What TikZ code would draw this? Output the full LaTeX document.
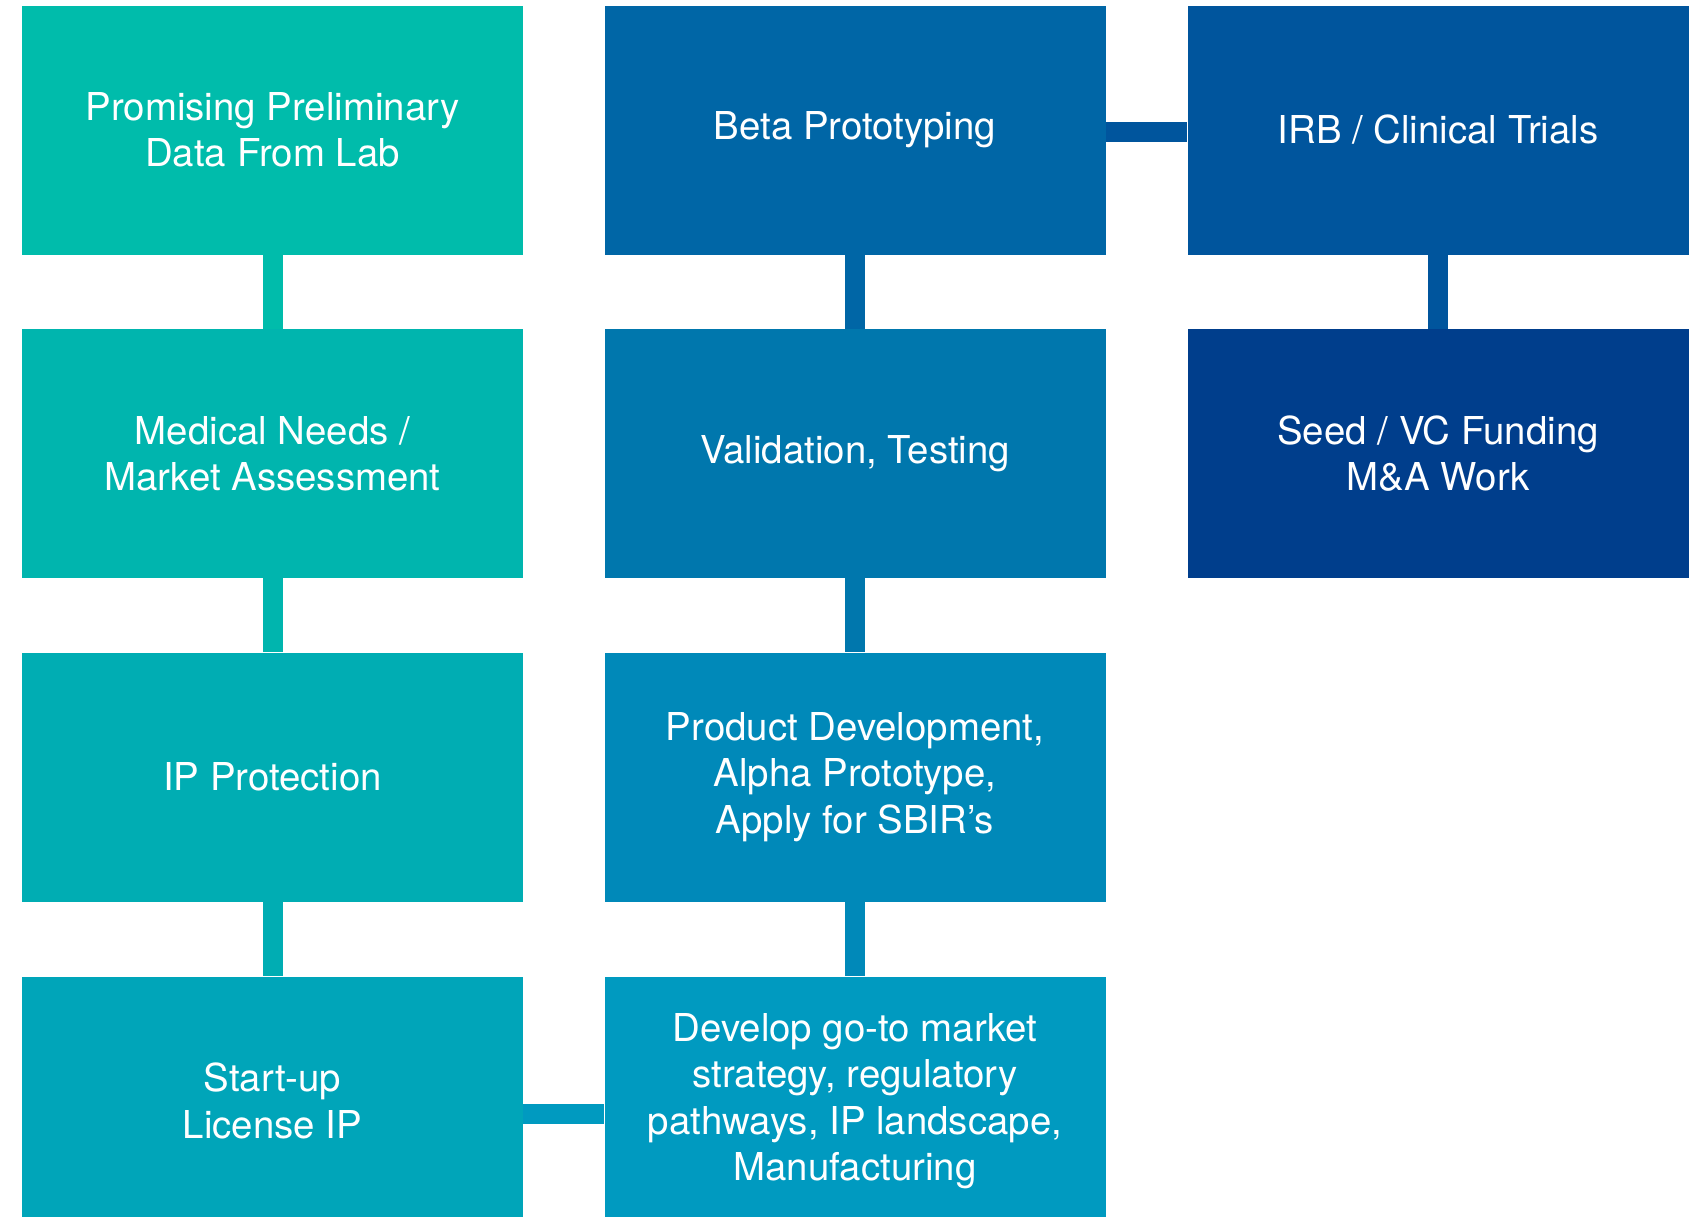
\documentclass[tikz,border=0pt]{standalone}
\usepackage{fontspec}
\setmainfont{TeX Gyre Heros}
\definecolor{cA}{HTML}{00BCAB}
\definecolor{cB}{HTML}{00B5AE}
\definecolor{cC}{HTML}{00ADB3}
\definecolor{cD}{HTML}{00A5B9}
\definecolor{cE}{HTML}{0066A6}
\definecolor{cF}{HTML}{0077AD}
\definecolor{cG}{HTML}{0089B9}
\definecolor{cH}{HTML}{009AC0}
\definecolor{cI}{HTML}{00559D}
\definecolor{cJ}{HTML}{003E8C}
\begin{document}
\begin{tikzpicture}[x=0.5pt,y=-0.5pt,
  box/.style={fill=#1, text=white, minimum width=250.5pt, minimum height=124.5pt,
    inner sep=0pt, align=center, font=\fontsize{19.2}{23.2}\selectfont},
  conn/.style={draw=#1, line width=10pt}]
\fill[white] (0,0) rectangle (1700,1216);
\useasboundingbox (0,0) rectangle (1700,1216);
\clip (0,0) rectangle (1700,1216);
% column 1
\node[box=cA] (a1) at (272.5,130) {Promising Preliminary\\Data From Lab};
\node[box=cB] (a2) at (272.5,453.5) {Medical Needs /\\Market Assessment};
\node[box=cC] (a3) at (272.5,777) {IP Protection};
\node[box=cD] (a4) at (272.5,1101) {Start-up\\License IP};
% column 2
\node[box=cE] (b1) at (855,130) {Beta Prototyping};
\node[box=cF] (b2) at (855,453.5) {Validation, Testing};
\node[box=cG] (b3) at (855,777) {Product Development,\\Alpha Prototype,\\Apply for SBIR’s};
\node[box=cH] (b4) at (855,1101) {Develop go-to market\\strategy, regulatory\\pathways, IP landscape,\\Manufacturing};
% column 3
\node[box=cI] (c1) at (1438,130) {IRB / Clinical Trials};
\node[box=cJ] (c2) at (1438,453.5) {Seed / VC Funding\\M\&A Work};
% connectors
\draw[conn=cA] (a1.south) -- (a2.north);
\draw[conn=cB] (a2.south) -- (a3.north);
\draw[conn=cC] (a3.south) -- (a4.north);
\draw[conn=cE] (b1.south) -- (b2.north);
\draw[conn=cF] (b2.south) -- (b3.north);
\draw[conn=cG] (b3.south) -- (b4.north);
\draw[conn=cI] (c1.south) -- (c2.north);
\coordinate (t) at (0,131.7);
\draw[conn=cI] (b1.east |- t) -- (c1.west |- t);
\coordinate (h) at (0,1114);
\draw[conn=cH] (a4.east |- h) -- (b4.west |- h);
\end{tikzpicture}
\end{document}
